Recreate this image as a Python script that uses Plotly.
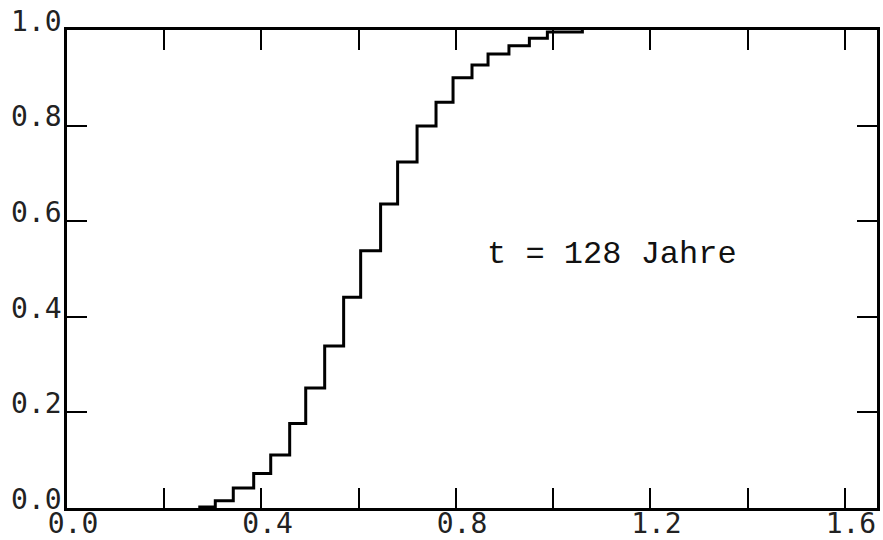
import plotly.graph_objects as go

# Step positions (x where each level starts) and levels (cumulative fraction)
step_x = [0.270, 0.305, 0.342, 0.384, 0.419, 0.458, 0.491, 0.530, 0.569, 0.604,
          0.645, 0.680, 0.720, 0.759, 0.794, 0.833, 0.866, 0.909, 0.951, 0.988, 1.060]
step_y = [0.002, 0.015, 0.042, 0.072, 0.111, 0.177, 0.251, 0.339, 0.441, 0.538,
          0.636, 0.724, 0.799, 0.849, 0.900, 0.927, 0.950, 0.967, 0.983, 0.996, 1.000]

x_tickvals = [0.0, 0.2, 0.4, 0.6, 0.8, 1.0, 1.2, 1.4, 1.6]
x_ticktext = ["0.0", "", "0.4", "", "0.8", "", "1.2", "", "1.6"]
y_tickvals = [0.0, 0.2, 0.4, 0.6, 0.8, 1.0]
y_ticktext = ["0.0", "0.2", "0.4", "0.6", "0.8", "1.0"]

label_text = "t = 128 Jahre"

fig = go.Figure()
fig.add_trace(go.Scatter(
    x=step_x, y=step_y, mode="lines", line_shape="hv",
    line=dict(color="black", width=3), showlegend=False, hoverinfo="skip"))

fig.add_annotation(
    x=1.12, y=0.53, xref="x", yref="y", text=label_text, showarrow=False,
    font=dict(family="Liberation Mono, Courier New, monospace", size=32, color="#111"))

axis_font = dict(family="DejaVu Sans Mono, monospace", size=28, color="#222")

fig.update_xaxes(
    range=[0, 1.666], tickvals=x_tickvals, ticktext=x_ticktext,
    ticks="inside", ticklen=20, tickwidth=2, tickcolor="black",
    showline=True, linecolor="black", linewidth=2.5, mirror="ticks",
    showgrid=False, zeroline=False, tickfont=axis_font, automargin=False,
    ticklabelshift=6, ticklabelstandoff=-11)
fig.update_yaxes(
    range=[0, 1.0], tickvals=y_tickvals, ticktext=y_ticktext,
    ticks="inside", ticklen=20, tickwidth=2, tickcolor="black",
    showline=True, linecolor="black", linewidth=2.5, mirror="ticks",
    showgrid=False, zeroline=False, tickfont=axis_font, automargin=False,
    ticklabelshift=-9, ticklabelstandoff=-3)

fig.update_layout(
    width=883, height=540,
    margin=dict(l=67, r=6, t=30, b=32),
    paper_bgcolor="white", plot_bgcolor="white")

fig.write_html("out.html")
